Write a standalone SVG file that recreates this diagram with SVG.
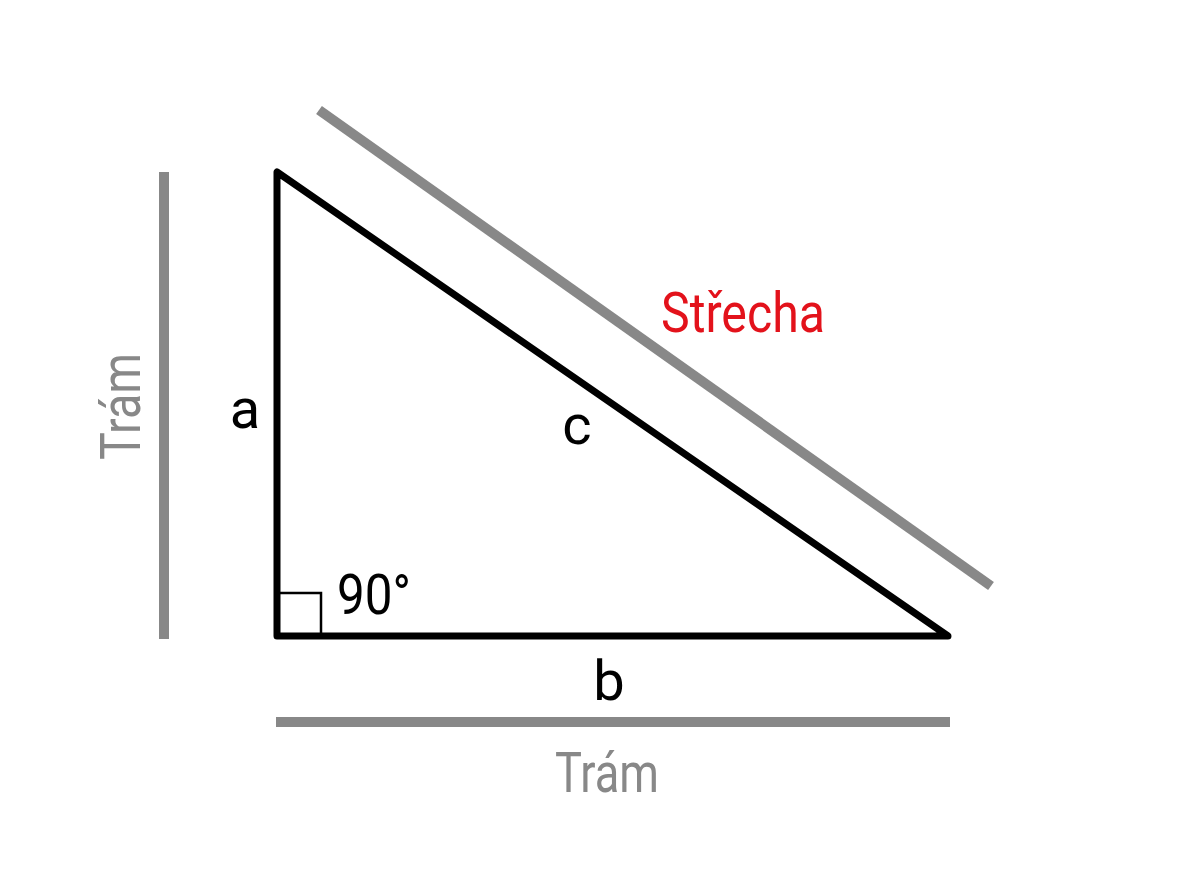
<svg xmlns="http://www.w3.org/2000/svg" width="1200" height="896" viewBox="0 0 1200 896">
  <style>
    .bar { stroke: #888888; stroke-width: 10; stroke-linecap: butt; fill: none; }
    .tri { stroke: #000000; stroke-width: 7; stroke-linejoin: round; stroke-linecap: round; fill: none; }
    .sq { stroke: #000000; stroke-width: 2.5; fill: none; }
    .lbl { font-family: Roboto, "Liberation Sans", sans-serif; font-size: 56px; fill: #000000; }
    .gray { fill: #888888; }
    .red { fill: #e3121b; }
  </style>
  <rect x="0" y="0" width="1200" height="896" fill="#ffffff"/>
  <g id="connectors">
    <line class="bar" x1="164" y1="172" x2="164" y2="639"/>
    <line class="bar" x1="276" y1="722" x2="950" y2="722"/>
    <line class="bar" x1="319" y1="110" x2="991" y2="586"/>
  </g>
  <g id="triangle">
    <polygon class="tri" points="277,172 277,636 948,636"/>
    <polyline class="sq" points="277,593 321,593 321,636"/>
  </g>
  <g id="labels">
    <text class="lbl gray" transform="translate(140,460) rotate(-90)" x="0" y="0" textLength="107" lengthAdjust="spacingAndGlyphs">Trám</text>
    <text class="lbl gray" x="555" y="792" textLength="104" lengthAdjust="spacingAndGlyphs">Trám</text>
    <text class="lbl red" x="661" y="332" textLength="164" lengthAdjust="spacingAndGlyphs">Střecha</text>
    <text class="lbl" x="245" y="428" text-anchor="middle">a</text>
    <text class="lbl" x="577" y="444" text-anchor="middle">c</text>
    <text class="lbl" x="609" y="700" text-anchor="middle">b</text>
    <text class="lbl" x="337" y="614" textLength="74" lengthAdjust="spacingAndGlyphs">90°</text>
  </g>
</svg>
